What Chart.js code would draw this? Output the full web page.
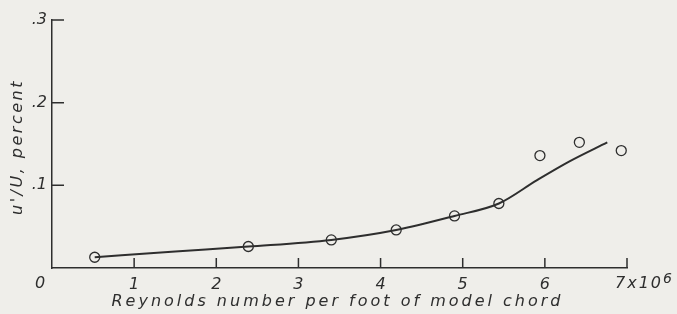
<!DOCTYPE html>
<html lang="en">
<head>
    <meta charset="UTF-8">
    <title>Turbulence level vs Reynolds number</title>
    <script src="https://cdn.jsdelivr.net/npm/chart.js"></script>
    <style>
        body {
            margin: 0;
            padding: 0;
            background-color: #efeeea;
        }
        #wrap {
            width: 677px;
            height: 314px;
        }
    </style>
</head>
<body>
    <div id="wrap"><canvas id="chart"></canvas></div>
    <script>
        // measured points (Reynolds number per foot, x10^6 / u'/U percent)
        const reynolds = [0.52, 2.39, 3.40, 4.19, 4.90, 5.44, 5.94, 6.42, 6.93];
        const turbulence = [0.013, 0.026, 0.034, 0.046, 0.063, 0.078, 0.136, 0.152, 0.142];

        // faired curve
        const curveRe = [0.52, 1.5, 2.39, 3.40, 4.19, 4.90, 5.44, 5.9, 6.3, 6.76];
        const curveU = [0.013, 0.020, 0.026, 0.034, 0.046, 0.063, 0.078, 0.106, 0.129, 0.152];

        const xTicks = [0, 1, 2, 3, 4, 5, 6, 7];
        const yTicks = [0.1, 0.2, 0.3];

        const ink = '#2e2e2e';
        const paper = '#efeeea';
        const fontFamily = '"DejaVu Sans", sans-serif';
        const labelFont = 'italic 16px ' + fontFamily;

        const toXY = (xs, ys) => xs.map((x, i) => ({ x: x, y: ys[i] }));

        // ticks pointing inward + titles + odd labels
        const paperPlugin = {
            id: 'paper',
            beforeDraw(chart) {
                const ctx = chart.ctx;
                ctx.save();
                ctx.fillStyle = paper;
                ctx.fillRect(0, 0, chart.width, chart.height);
                ctx.restore();
            },
            afterDraw(chart) {
                const ctx = chart.ctx;
                const xs = chart.scales.x, ys = chart.scales.y;
                const area = chart.chartArea;
                ctx.save();
                ctx.strokeStyle = ink;
                ctx.lineWidth = 1.5;
                ctx.beginPath();
                xTicks.forEach(v => {
                    if (v === 0) return;
                    const px = xs.getPixelForValue(v);
                    ctx.moveTo(px, area.bottom);
                    ctx.lineTo(px, area.bottom - 10);
                });
                yTicks.forEach(v => {
                    const py = ys.getPixelForValue(v);
                    ctx.moveTo(area.left, py);
                    ctx.lineTo(area.left + 12, py);
                });
                ctx.stroke();

                ctx.fillStyle = ink;
                ctx.font = labelFont;
                ctx.textBaseline = 'middle';
                // origin label and the last label with exponent
                ctx.textAlign = 'center';
                ctx.fillText('0', xs.getPixelForValue(0) - 12, area.bottom + 16);
                ctx.textAlign = 'left';
                ctx.letterSpacing = '2px';
                const x7 = xs.getPixelForValue(7) - 12;
                ctx.fillText('7x10', x7, area.bottom + 16);
                const w = ctx.measureText('7x10').width;
                ctx.font = 'italic 14px ' + fontFamily;
                ctx.fillText('6', x7 + w, area.bottom + 11);

                // axis titles
                ctx.font = labelFont;
                ctx.letterSpacing = '3px';
                ctx.textAlign = 'center';
                ctx.fillText('Reynolds number per foot of model chord', (area.left + area.right) / 2 - 2, area.bottom + 34);
                ctx.letterSpacing = '2.5px';
                ctx.translate(18, (area.top + area.bottom) / 2 + 3);
                ctx.rotate(-Math.PI / 2);
                ctx.fillText("u'/U, percent", 0, 0);
                ctx.restore();
            }
        };

        new Chart(document.getElementById('chart'), {
            type: 'scatter',
            data: {
                datasets: [
                    {
                        label: 'Faired curve',
                        data: toXY(curveRe, curveU),
                        showLine: true,
                        borderColor: ink,
                        borderWidth: 2,
                        pointRadius: 0,
                        tension: 0.4,
                        cubicInterpolationMode: 'monotone'
                    },
                    {
                        label: 'Measured',
                        data: toXY(reynolds, turbulence),
                        borderColor: ink,
                        backgroundColor: paper,
                        pointRadius: 5,
                        pointBorderWidth: 1.3
                    }
                ]
            },
            options: {
                responsive: true,
                maintainAspectRatio: false,
                animation: false,
                layout: { padding: { top: 20, right: 50 } },
                plugins: {
                    legend: { display: false },
                    tooltip: { enabled: false }
                },
                scales: {
                    x: {
                        type: 'linear',
                        min: 0,
                        max: 7,
                        afterBuildTicks(scale) { scale.ticks = xTicks.map(v => ({ value: v })); },
                        afterFit(scale) { scale.height = 46; },
                        grid: { display: false, drawTicks: false },
                        border: { display: true, color: ink, width: 1.5 },
                        ticks: {
                            color: ink,
                            font: { family: fontFamily, size: 16, style: 'italic' },
                            padding: 7,
                            maxRotation: 0,
                            autoSkip: false,
                            callback: v => (v === 0 || v === 7) ? '' : String(v)
                        }
                    },
                    y: {
                        min: 0,
                        max: 0.3,
                        afterBuildTicks(scale) { scale.ticks = yTicks.map(v => ({ value: v })); },
                        afterFit(scale) { scale.width = 52; },
                        grid: { display: false, drawTicks: false },
                        border: { display: true, color: ink, width: 1.5 },
                        ticks: {
                            color: ink,
                            font: { family: fontFamily, size: 16, style: 'italic' },
                            padding: 5,
                            callback: v => '.' + Math.round(v * 10)
                        }
                    }
                }
            },
            plugins: [paperPlugin]
        });
    </script>
</body>
</html>
